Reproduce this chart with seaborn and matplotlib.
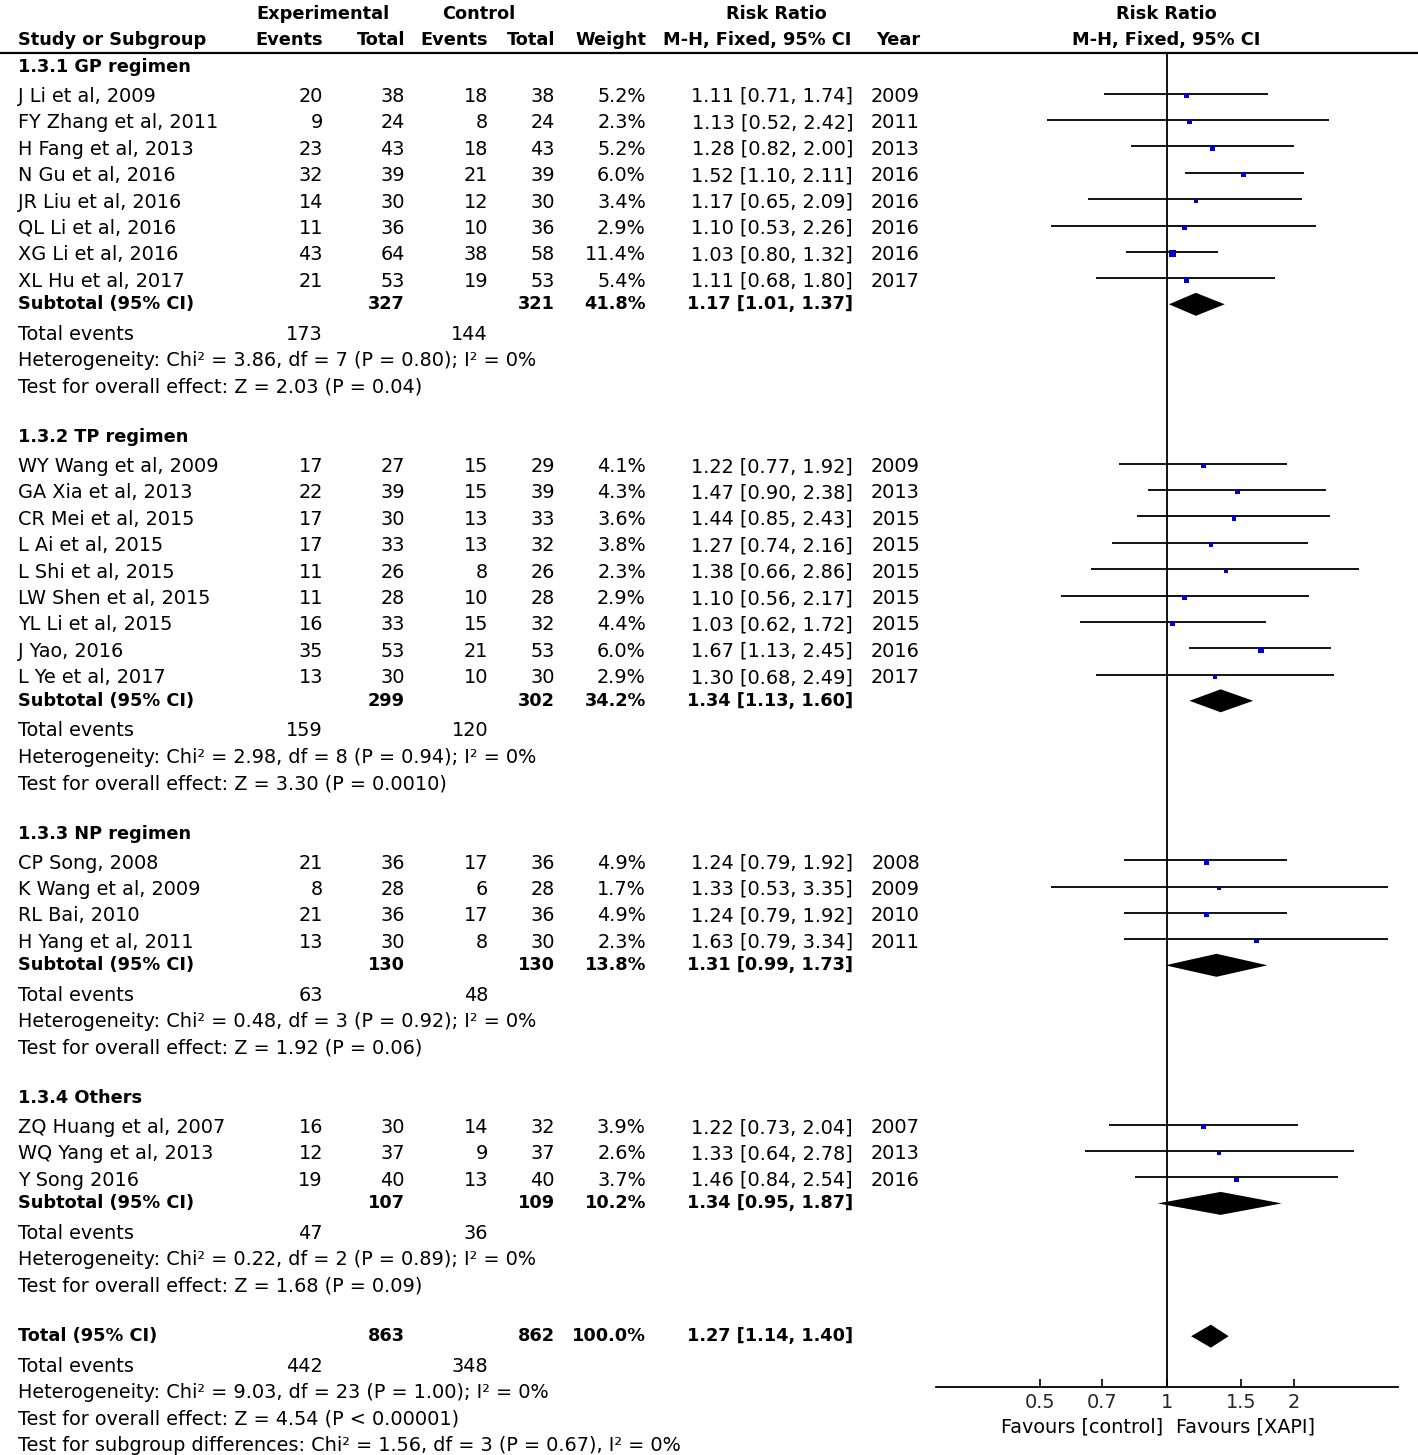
import matplotlib
matplotlib.use("Agg")
import matplotlib.pyplot as plt
from matplotlib.ticker import NullLocator, FixedLocator, FixedFormatter
import seaborn as sns
import pandas as pd

# ---------------- data ----------------
group_titles = ["1.3.1 GP regimen", "1.3.2 TP regimen", "1.3.3 NP regimen", "1.3.4 Others"]

g1_names = ["J Li et al, 2009", "FY Zhang et al, 2011", "H Fang et al, 2013", "N Gu et al, 2016",
            "JR Liu et al, 2016", "QL Li et al, 2016", "XG Li et al, 2016", "XL Hu et al, 2017"]
g1_exp_ev = [20, 9, 23, 32, 14, 11, 43, 21]
g1_exp_tot = [38, 24, 43, 39, 30, 36, 64, 53]
g1_ctl_ev = [18, 8, 18, 21, 12, 10, 38, 19]
g1_ctl_tot = [38, 24, 43, 39, 30, 36, 58, 53]
g1_weight = [5.2, 2.3, 5.2, 6.0, 3.4, 2.9, 11.4, 5.4]
g1_rr = [1.11, 1.13, 1.28, 1.52, 1.17, 1.10, 1.03, 1.11]
g1_lo = [0.71, 0.52, 0.82, 1.10, 0.65, 0.53, 0.80, 0.68]
g1_hi = [1.74, 2.42, 2.00, 2.11, 2.09, 2.26, 1.32, 1.80]
g1_year = [2009, 2011, 2013, 2016, 2016, 2016, 2016, 2017]

g2_names = ["WY Wang et al, 2009", "GA Xia et al, 2013", "CR Mei et al, 2015", "L Ai et al, 2015",
            "L Shi et al, 2015", "LW Shen et al, 2015", "YL Li et al, 2015", "J Yao, 2016", "L Ye et al, 2017"]
g2_exp_ev = [17, 22, 17, 17, 11, 11, 16, 35, 13]
g2_exp_tot = [27, 39, 30, 33, 26, 28, 33, 53, 30]
g2_ctl_ev = [15, 15, 13, 13, 8, 10, 15, 21, 10]
g2_ctl_tot = [29, 39, 33, 32, 26, 28, 32, 53, 30]
g2_weight = [4.1, 4.3, 3.6, 3.8, 2.3, 2.9, 4.4, 6.0, 2.9]
g2_rr = [1.22, 1.47, 1.44, 1.27, 1.38, 1.10, 1.03, 1.67, 1.30]
g2_lo = [0.77, 0.90, 0.85, 0.74, 0.66, 0.56, 0.62, 1.13, 0.68]
g2_hi = [1.92, 2.38, 2.43, 2.16, 2.86, 2.17, 1.72, 2.45, 2.49]
g2_year = [2009, 2013, 2015, 2015, 2015, 2015, 2015, 2016, 2017]

g3_names = ["CP Song, 2008", "K Wang et al, 2009", "RL Bai, 2010", "H Yang et al, 2011"]
g3_exp_ev = [21, 8, 21, 13]
g3_exp_tot = [36, 28, 36, 30]
g3_ctl_ev = [17, 6, 17, 8]
g3_ctl_tot = [36, 28, 36, 30]
g3_weight = [4.9, 1.7, 4.9, 2.3]
g3_rr = [1.24, 1.33, 1.24, 1.63]
g3_lo = [0.79, 0.53, 0.79, 0.79]
g3_hi = [1.92, 3.35, 1.92, 3.34]
g3_year = [2008, 2009, 2010, 2011]

g4_names = ["ZQ Huang et al, 2007", "WQ Yang et al, 2013", "Y Song 2016"]
g4_exp_ev = [16, 12, 19]
g4_exp_tot = [30, 37, 40]
g4_ctl_ev = [14, 9, 13]
g4_ctl_tot = [32, 37, 40]
g4_weight = [3.9, 2.6, 3.7]
g4_rr = [1.22, 1.33, 1.46]
g4_lo = [0.73, 0.64, 0.84]
g4_hi = [2.04, 2.78, 2.54]
g4_year = [2007, 2013, 2016]

sub_exp_tot = [327, 299, 130, 107]
sub_ctl_tot = [321, 302, 130, 109]
sub_weight = [41.8, 34.2, 13.8, 10.2]
sub_rr = [1.17, 1.34, 1.31, 1.34]
sub_lo = [1.01, 1.13, 0.99, 0.95]
sub_hi = [1.37, 1.60, 1.73, 1.87]
sub_exp_ev = [173, 159, 63, 47]
sub_ctl_ev = [144, 120, 48, 36]
sub_het = ["Heterogeneity: Chi² = 3.86, df = 7 (P = 0.80); I² = 0%",
           "Heterogeneity: Chi² = 2.98, df = 8 (P = 0.94); I² = 0%",
           "Heterogeneity: Chi² = 0.48, df = 3 (P = 0.92); I² = 0%",
           "Heterogeneity: Chi² = 0.22, df = 2 (P = 0.89); I² = 0%"]
sub_test = ["Test for overall effect: Z = 2.03 (P = 0.04)",
            "Test for overall effect: Z = 3.30 (P = 0.0010)",
            "Test for overall effect: Z = 1.92 (P = 0.06)",
            "Test for overall effect: Z = 1.68 (P = 0.09)"]

tot_exp_tot, tot_ctl_tot, tot_weight = 863, 862, 100.0
tot_rr, tot_lo, tot_hi = 1.27, 1.14, 1.40
tot_exp_ev, tot_ctl_ev = 442, 348
tot_het = "Heterogeneity: Chi² = 9.03, df = 23 (P = 1.00); I² = 0%"
tot_test = "Test for overall effect: Z = 4.54 (P < 0.00001)"
tot_sub = "Test for subgroup differences: Chi² = 1.56, df = 3 (P = 0.67), I² = 0%"

x_ticks = [0.5, 0.7, 1, 1.5, 2]
x_tick_labels = ["0.5", "0.7", "1", "1.5", "2"]
fav_left = "Favours [control]"
fav_right = "Favours [XAPI]"

groups = [
    (g1_names, g1_exp_ev, g1_exp_tot, g1_ctl_ev, g1_ctl_tot, g1_weight, g1_rr, g1_lo, g1_hi, g1_year),
    (g2_names, g2_exp_ev, g2_exp_tot, g2_ctl_ev, g2_ctl_tot, g2_weight, g2_rr, g2_lo, g2_hi, g2_year),
    (g3_names, g3_exp_ev, g3_exp_tot, g3_ctl_ev, g3_ctl_tot, g3_weight, g3_rr, g3_lo, g3_hi, g3_year),
    (g4_names, g4_exp_ev, g4_exp_tot, g4_ctl_ev, g4_ctl_tot, g4_weight, g4_rr, g4_lo, g4_hi, g4_year),
]

# ---------------- layout ----------------
sns.set_theme(style="white")
plt.rcParams['font.family'] = ['DejaVu Sans']
FS = 13.9
FSB = 12.8

W, H = 1418, 1455
fig = plt.figure(figsize=(W / 100, H / 100), dpi=100)
ax_t = fig.add_axes([0, 0, 1, 1])
ax_t.set_xlim(0, W)
ax_t.set_ylim(H, 0)
ax_t.axis("off")

AX_TOP, AX_BOT, AX_L, AX_R = 53, 1387, 936, 1398
ax_f = fig.add_axes([AX_L / W, (H - AX_BOT) / H, (AX_R - AX_L) / W, (AX_BOT - AX_TOP) / H])
ax_f.patch.set_alpha(0)

X_NAME, X_EE, X_ET, X_CE, X_CT, X_W, X_RR, X_YR = 18, 323, 405, 488, 555, 646, 853, 920


def txt(x, y, s, ha="left", bold=False):
    ax_t.text(x, y, s, ha=ha, va="center", fontsize=FSB if bold else FS,
              fontweight="bold" if bold else "normal", color="black")


# header
txt(323, 14, "Experimental", "center", True)
txt(479, 14, "Control", "center", True)
txt(776, 14, "Risk Ratio", "center", True)
txt(1166, 14, "Risk Ratio", "center", True)
txt(X_NAME, 40, "Study or Subgroup", "left", True)
txt(X_EE, 40, "Events", "right", True)
txt(X_ET, 40, "Total", "right", True)
txt(X_CE, 40, "Events", "right", True)
txt(X_CT, 40, "Total", "right", True)
txt(X_W, 40, "Weight", "right", True)
txt(757, 40, "M-H, Fixed, 95% CI", "center", True)
txt(X_YR, 40, "Year", "right", True)
txt(1166, 40, "M-H, Fixed, 95% CI", "center", True)
ax_t.plot([0, W], [AX_TOP, AX_TOP], color="black", lw=1.6)

STEP = 26.4
y = 67
study_rows = []
diamonds = []
for gi, g in enumerate(groups):
    names, ee, et, ce, ct, w, rr, lo, hi, yr = g
    txt(X_NAME, y, group_titles[gi], "left", True)
    y += 29.5
    for i in range(len(names)):
        txt(X_NAME, y, names[i])
        txt(X_EE, y, str(ee[i]), "right")
        txt(X_ET, y, str(et[i]), "right")
        txt(X_CE, y, str(ce[i]), "right")
        txt(X_CT, y, str(ct[i]), "right")
        txt(X_W, y, f"{w[i]:.1f}%", "right")
        txt(X_RR, y, f"{rr[i]:.2f} [{lo[i]:.2f}, {hi[i]:.2f}]", "right")
        txt(X_YR, y, str(yr[i]), "right")
        study_rows.append(dict(y=y, rr=rr[i], lo=lo[i], hi=hi[i], w=w[i]))
        y += STEP
    y = y - STEP + 23
    txt(X_NAME, y, "Subtotal (95% CI)", "left", True)
    txt(X_ET, y, str(sub_exp_tot[gi]), "right", True)
    txt(X_CT, y, str(sub_ctl_tot[gi]), "right", True)
    txt(X_W, y, f"{sub_weight[gi]:.1f}%", "right", True)
    txt(X_RR, y, f"{sub_rr[gi]:.2f} [{sub_lo[gi]:.2f}, {sub_hi[gi]:.2f}]", "right", True)
    diamonds.append((y, sub_rr[gi], sub_lo[gi], sub_hi[gi]))
    y += 30
    txt(X_NAME, y, "Total events")
    txt(X_EE, y, str(sub_exp_ev[gi]), "right")
    txt(X_CE, y, str(sub_ctl_ev[gi]), "right")
    y += STEP
    txt(X_NAME, y, sub_het[gi])
    y += STEP
    txt(X_NAME, y, sub_test[gi])
    y += 50

txt(X_NAME, y, "Total (95% CI)", "left", True)
txt(X_ET, y, str(tot_exp_tot), "right", True)
txt(X_CT, y, str(tot_ctl_tot), "right", True)
txt(X_W, y, f"{tot_weight:.1f}%", "right", True)
txt(X_RR, y, f"{tot_rr:.2f} [{tot_lo:.2f}, {tot_hi:.2f}]", "right", True)
diamonds.append((y, tot_rr, tot_lo, tot_hi))
y += 30
txt(X_NAME, y, "Total events")
txt(X_EE, y, str(tot_exp_ev), "right")
txt(X_CE, y, str(tot_ctl_ev), "right")
y += STEP
txt(X_NAME, y, tot_het)
y += STEP
txt(X_NAME, y, tot_test)
y += STEP
txt(X_NAME, y, tot_sub)

# ---------------- forest panel ----------------
df = pd.DataFrame(study_rows)
df["y_line"] = df["y"] - 3
df["y_mark"] = df["y"] - 1
# marker area (pt^2) grows with study weight
df["s"] = ((3.4 + 0.32 * df["w"]) * 0.72) ** 2
ax_f.set_xscale("log")
ax_f.set_xlim(0.283, 3.53)
ax_f.set_ylim(AX_BOT, AX_TOP)
ax_f.axvline(1, color="black", lw=1.3, zorder=1)
ax_f.hlines(df["y_line"], df["lo"], df["hi"], color="black", lw=1.3, zorder=2)
smin, smax = df["s"].min(), df["s"].max()
sns.scatterplot(data=df, x="rr", y="y_mark", size="s", sizes=(smin, smax),
                size_norm=(smin, smax), marker="s", color="#0000CC", linewidth=0,
                legend=False, ax=ax_f, zorder=3)
for (dy, r, l, h) in diamonds:
    ax_f.fill([l, r, h, r], [dy, dy - 11.5, dy, dy + 11.5], color="black", lw=0, zorder=4)

ax_f.set_ylim(AX_BOT, AX_TOP)
ax_f.set_xlabel("")
ax_f.set_ylabel("")
ax_f.set_yticks([])
for s in ["top", "left", "right"]:
    ax_f.spines[s].set_visible(False)
ax_f.spines["bottom"].set_color("black")
ax_f.spines["bottom"].set_linewidth(1.3)
ax_f.xaxis.set_major_locator(FixedLocator(x_ticks))
ax_f.xaxis.set_major_formatter(FixedFormatter(x_tick_labels))
ax_f.xaxis.set_minor_locator(NullLocator())
ax_f.tick_params(axis="x", direction="in", length=6, width=1.2, color="black",
                 labelsize=FS, pad=4, bottom=True)
ax_f.grid(False)

txt(1163, 1427, fav_left, "right")
txt(1176, 1427, fav_right, "left")

fig.savefig("out.png", dpi=100, facecolor="white")
